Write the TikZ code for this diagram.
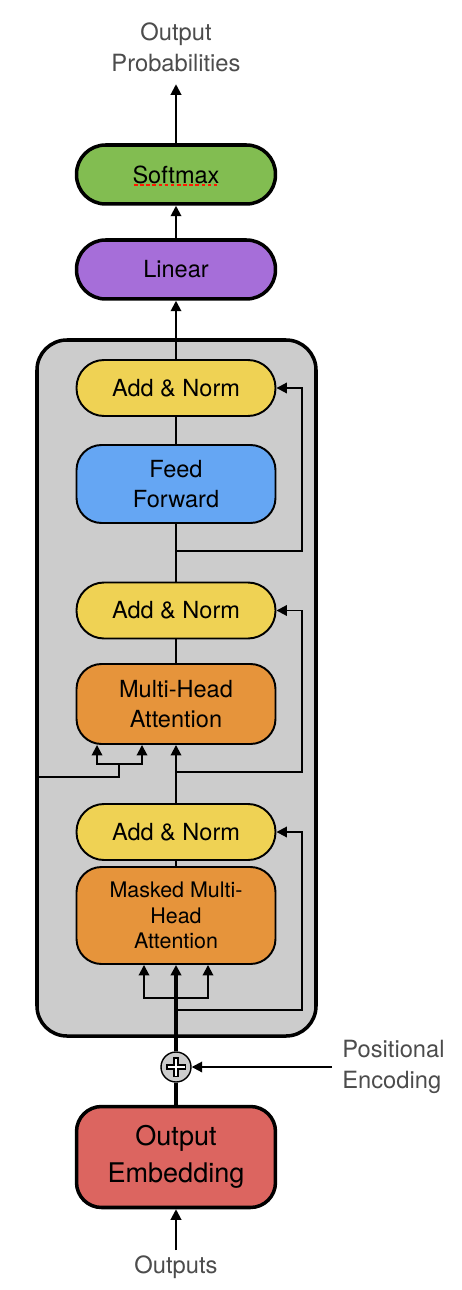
\documentclass[tikz,border=0pt]{standalone}
\usepackage{fontspec}
\setmainfont{TeX Gyre Heros}
\usetikzlibrary{arrows.meta}

\definecolor{softgreen}{HTML}{82BD51}
\definecolor{linpurple}{HTML}{A66ED9}
\definecolor{normyellow}{HTML}{EFD254}
\definecolor{ffblue}{HTML}{65A6F3}
\definecolor{attorange}{HTML}{E6943B}
\definecolor{embred}{HTML}{DC6560}
\definecolor{boxgray}{HTML}{CCCCCC}

\tikzset{
  block/.style={draw, line width=1.1pt, rounded corners=0.5cm, minimum width=3.98cm, inner sep=0pt, align=center, font=\fontsize{13.4}{17}\selectfont},
  pill/.style={block, line width=2pt, rounded corners=0.58cm, minimum height=1.18cm},
  addnorm/.style={block, fill=normyellow, rounded corners=0.55cm, minimum height=1.12cm},
  arr/.style={-{Triangle[width=0.21cm,length=0.21cm]}, line width=1.1pt},
  outtext/.style={text=black!70, align=center, font=\fontsize{13.5}{17.5}\selectfont}
}

\begin{document}
\begin{tikzpicture}[x=0.02cm, y=-0.02cm]

    \useasboundingbox (0,0) rectangle (462,1290);

    % decoder block
    \draw[line width=2pt, fill=boxgray, rounded corners=0.6cm] (37,340) rectangle (316,1036);

    \node[pill, fill=softgreen] (softmax) at (176,174.5) {Softmax};
    \draw[red!80!orange, dashed, line width=1pt, dash pattern=on 2pt off 1.5pt] (134,185) -- (219,185);
    \node[pill, fill=linpurple] (linear) at (176,269.5) {Linear};

    \node[addnorm] (an1) at (176,388) {Add \& Norm};
    \node[block, fill=ffblue, minimum height=1.56cm] (ff) at (176,484) {Feed\\Forward};
    \node[addnorm] (an2) at (176,610.5) {Add \& Norm};
    \node[block, fill=attorange, minimum height=1.6cm] (mha) at (176,704) {Multi-Head\\Attention};
    \node[addnorm] (an3) at (176,832) {Add \& Norm};
    \node[block, fill=attorange, minimum height=1.94cm, font=\fontsize{12.2}{14.7}\selectfont] (mmha) at (176,915.5) {Masked Multi-\\Head\\Attention};

    \node[draw, circle, fill=boxgray, minimum size=0.6cm, inner sep=0pt, line width=0.8pt] (plus) at (176,1067) {};
    \draw[line width=0.11cm] ([xshift=-0.2cm]plus.center) -- ([xshift=0.2cm]plus.center);
    \draw[line width=0.11cm] ([yshift=-0.2cm]plus.center) -- ([yshift=0.2cm]plus.center);
    \draw[white, line width=0.05cm] ([xshift=-0.17cm]plus.center) -- ([xshift=0.17cm]plus.center);
    \draw[white, line width=0.05cm] ([yshift=-0.17cm]plus.center) -- ([yshift=0.17cm]plus.center);

    \node[pill, fill=embred, line width=2pt, rounded corners=0.5cm, minimum height=2.02cm, font=\fontsize{15.4}{21}\selectfont] (embed) at (176,1157) {Output\\Embedding};

    \node[outtext, inner sep=0.25cm] (probs) at (176,47) {Output\\Probabilities};
    \node[outtext, inner sep=0.1cm] (outputs) at (176,1267) {Outputs};
    \node[outtext, align=left, anchor=west, inner xsep=0.2cm] (posenc) at (332,1067) {Positional\\Encoding};

    % main path
    \draw[arr] (softmax.north) -- (probs.south);
    \draw[arr] (linear.north) -- (softmax.south);
    \draw[arr] (an1.north) -- (linear.south);
    \draw[line width=1.1pt] (ff.north) -- (an1.south);
    \draw[line width=1.1pt] (an2.north) -- (ff.south);
    \draw[line width=1.1pt] (mha.north) -- (an2.south);
    \draw[arr] (an3.north) -- (mha.south);
    \draw[line width=1.1pt] (mmha.north) -- (an3.south);
    \draw[arr, line width=2pt] (plus.north) -- (mmha.south);
    \draw[line width=2pt] (embed.north) -- (plus.south);
    \draw[arr] (outputs.north) -- (embed.south);
    \draw[arr] (posenc.west) -- (plus.east);

    % residual connections
    \coordinate (r1) at (176,551);
    \coordinate (r2) at (176,772);
    \coordinate (r3) at (176,1010);
    \draw[arr] (r1) -- ++(126,0) |- (an1.east);
    \draw[arr] (r2) -- ++(126,0) |- (an2.east);
    \draw[arr] (r3) -- ++(126,0) |- (an3.east);

    % attention inputs
    \coordinate (enc) at (38,777);
    \coordinate (kv) at (119,764);
    \draw[line width=1.1pt] (enc) -- (119,777) -- (kv);
    \draw[arr] (kv) -| ([xshift=-1.58cm]mha.south);
    \draw[arr] (kv) -| ([xshift=-0.68cm]mha.south);
    \coordinate (qkv) at (176,998);
    \draw[arr] (qkv) -| ([xshift=-0.64cm]mmha.south);
    \draw[arr] (qkv) -| ([xshift=0.64cm]mmha.south);

\end{tikzpicture}
\end{document}
